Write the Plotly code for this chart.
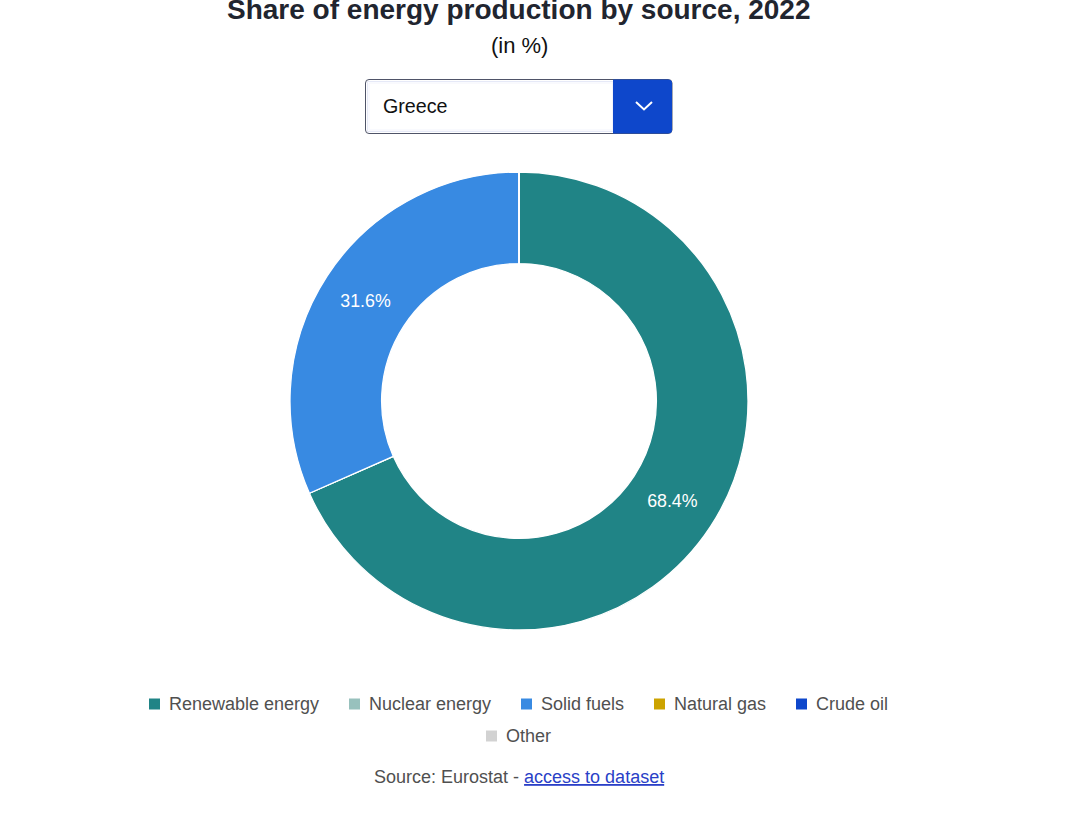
import plotly.graph_objects as go

sources = ["Renewable energy", "Nuclear energy", "Solid fuels", "Natural gas", "Crude oil", "Other"]
shares = [68.4, 0, 31.6, 0, 0, 0]
colors = ["#208486", "#98c1bd", "#388ae2", "#cca300", "#0e47cb", "#d2d2d2"]

W, H = 1085, 820
FONT = "Liberation Sans"

# pixels to paper coordinates (origin top left)
def px(x):
    return x / W

def py(y):
    return 1 - y / H

def note(x, y, text, size=18, color="#404040", anchor="center", **kw):
    return dict(xref="paper", yref="paper", x=px(x), y=py(y), text=text, showarrow=False,
                xanchor=anchor, yanchor="middle", font=dict(family=FONT, size=size, color=color), **kw)

def rect(x0, y0, x1, y1, fill, line=None):
    return dict(type="rect", xref="paper", yref="paper", x0=px(x0), y0=py(y0), x1=px(x1), y1=py(y1),
                fillcolor=fill, line=dict(width=1 if line else 0, color=line))

fig = go.Figure(
    go.Pie(
        labels=sources,
        values=shares,
        sort=False,
        direction="clockwise",
        rotation=0,
        hole=0.6,
        marker=dict(colors=colors, line=dict(color="white", width=1.3)),
        textinfo="percent",
        textposition="inside",
        insidetextorientation="horizontal",
        texttemplate="%{percent:.1%}",
        textfont=dict(family=FONT, size=17.8, color="white"),
        domain=dict(x=[px(290), px(748)], y=[py(630), py(172)]),
        showlegend=False,
    )
)

annotations = [
    note(519, 9, "<b>Share of energy production by source, 2022</b>", size=28, color="#21252f"),
    note(519, 45, "(in %)", size=22, color="#111111"),
    note(381, 106, "Greece", size=19.7, color="#111111", anchor="left"),
    note(372, 777, "Source: Eurostat - <a href='https://ec.europa.eu/eurostat' style='color:#2a3fc7'><u>access to dataset</u></a>",
         size=18, color="#505050", anchor="left"),
]

shapes = [
    dict(type="path", xref="paper", yref="paper",
         path=(f"M {px(369)},{py(79.5)} L {px(668)},{py(79.5)} Q {px(672)},{py(79.5)} {px(672)},{py(83)} "
               f"L {px(672)},{py(130)} Q {px(672)},{py(133.5)} {px(668)},{py(133.5)} "
               f"L {px(369)},{py(133.5)} Q {px(365.5)},{py(133.5)} {px(365.5)},{py(130)} "
               f"L {px(365.5)},{py(83)} Q {px(365.5)},{py(79.5)} {px(369)},{py(79.5)} Z"),
         fillcolor="white", line=dict(color="#4f5468", width=1)),
    # soft inner glow of the select box
    rect(367.5, 81.5, 613, 131.5, "rgba(0,0,0,0)", "#e6e9f7"),
    rect(369, 83, 613, 130, "rgba(0,0,0,0)", "#f3f4fc"),
    dict(type="path", xref="paper", yref="paper",
         path=(f"M {px(613)},{py(79.5)} L {px(668)},{py(79.5)} Q {px(672)},{py(79.5)} {px(672)},{py(83)} "
               f"L {px(672)},{py(130)} Q {px(672)},{py(133.5)} {px(668)},{py(133.5)} L {px(613)},{py(133.5)} Z"),
         fillcolor="#0e47cb", line=dict(width=0)),
    dict(type="path", xref="paper", yref="paper",
         path=f"M {px(636)},{py(102)} L {px(644)},{py(109.5)} L {px(652)},{py(102)}",
         line=dict(color="white", width=2)),
]

# legend drawn by hand: plotly can't centre wrapped rows
legend_x = [149, 349, 521, 654, 796, 486]
legend_y = [704, 704, 704, 704, 704, 736]
for name, color, x, y in zip(sources, colors, legend_x, legend_y):
    shapes.append(rect(x, y - 5.5, x + 11, y + 5.5, color))
    annotations.append(note(x + 18, y, name, size=18, color="#505050", anchor="left"))

fig.update_layout(
    width=W,
    height=H,
    margin=dict(l=0, r=0, t=0, b=0),
    paper_bgcolor="white",
    annotations=annotations,
    shapes=shapes,
)

fig.write_html("out.html", config=dict(displayModeBar=False), post_script="document.body.style.margin = '0';")
